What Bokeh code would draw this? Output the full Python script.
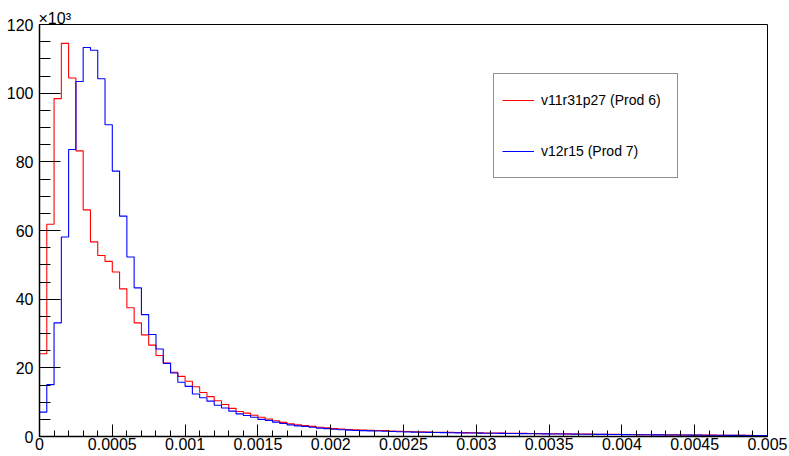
import numpy as np
from bokeh.plotting import figure
from bokeh.models import (FixedTicker, CustomJSTickFormatter, Legend, LegendItem,
                          Title, Range1d)
from bokeh.embed import file_html
from bokeh.resources import INLINE

# ---------------- data (counts in units of 10^3) ----------------
x_min = 0.0
x_max = 0.005
n_bins = 100

series_names = ["v11r31p27 (Prod 6)", "v12r15 (Prod 7)"]

prod6 = [24.1, 61.8, 98.4, 114.5, 104.4, 83.2, 66.0, 56.7, 52.7, 51.0,
         47.9, 43.0, 37.5, 33.1, 29.6, 26.6, 23.6, 21.4, 18.7, 17.5,
         16.1, 14.5, 12.8, 11.6, 10.4, 9.3, 8.2, 7.3, 6.8, 6.2,
         5.6, 5.1, 4.6, 4.1, 3.7, 3.4, 3.2, 2.95, 2.7, 2.5,
         2.3, 2.2, 2.05, 1.95, 1.85, 1.8, 1.75, 1.7, 1.6, 1.55,
         1.45, 1.4, 1.35, 1.3, 1.25, 1.22, 1.2, 1.15, 1.12, 1.1,
         1.05, 1.02, 1.0, 0.97, 0.94, 0.92, 0.9, 0.87, 0.85, 0.82,
         0.8, 0.78, 0.76, 0.73, 0.71, 0.69, 0.67, 0.65, 0.63, 0.61,
         0.59, 0.57, 0.55, 0.53, 0.51, 0.5, 0.48, 0.46, 0.45, 0.43,
         0.42, 0.4, 0.39, 0.37, 0.36, 0.35, 0.33, 0.32, 0.31, 0.3]

prod7 = [7.1, 15.1, 33.1, 58.1, 83.6, 103.4, 113.3, 112.5, 104.2, 90.8,
         77.3, 64.2, 52.3, 43.3, 35.5, 29.7, 25.5, 21.3, 18.5, 15.8,
         14.6, 12.4, 11.3, 10.3, 9.1, 8.3, 7.4, 6.6, 6.1, 5.6,
         5.0, 4.7, 4.2, 3.8, 3.4, 3.1, 2.95, 2.7, 2.45, 2.3,
         2.1, 1.95, 1.85, 1.75, 1.7, 1.65, 1.6, 1.55, 1.45, 1.4,
         1.32, 1.28, 1.24, 1.2, 1.17, 1.13, 1.1, 1.07, 1.04, 1.01,
         0.98, 0.95, 0.93, 0.9, 0.88, 0.86, 0.83, 0.81, 0.79, 0.77,
         0.75, 0.73, 0.71, 0.69, 0.67, 0.65, 0.63, 0.61, 0.59, 0.57,
         0.55, 0.53, 0.52, 0.5, 0.48, 0.47, 0.45, 0.44, 0.42, 0.41,
         0.4, 0.38, 0.37, 0.36, 0.34, 0.33, 0.32, 0.31, 0.3, 0.29]

x_ticks = [0, 0.0005, 0.001, 0.0015, 0.002, 0.0025, 0.003, 0.0035, 0.004, 0.0045, 0.005]
y_ticks = [0, 20, 40, 60, 80, 100, 120]
y_max = 120
y_exponent_text = "×10³"

# ---------------- figure ----------------
edges = np.linspace(x_min, x_max, n_bins + 1)
font = "Liberation Sans"

p = figure(width=789, height=456, output_backend="svg", toolbar_location=None,
           x_range=Range1d(x_min, x_max), y_range=Range1d(0, y_max),
           min_border_left=39, min_border_right=22, min_border_top=24,
           min_border_bottom=20)
p.title.text = y_exponent_text
p.title.align = "left"
p.title.offset = -1
p.title.standoff = -4
p.title.text_font = font
p.title.text_font_size = "16px"
p.title.text_font_style = "normal"
p.title.text_color = "black"
p.title.text_line_height = 1.5

p.background_fill_color = "white"
p.border_fill_color = "white"
p.outline_line_color = "black"
p.outline_line_width = 1
p.xgrid.visible = False
p.ygrid.visible = False

r6 = p.step(x=edges, y=np.append(prod6, prod6[-1]), mode="after",
            line_color="#ff0000", line_width=1.1)
r7 = p.step(x=edges, y=np.append(prod7, prod7[-1]), mode="after",
            line_color="#0000ff", line_width=1.1)

# x axis
xa = p.xaxis[0]
xa.ticker = FixedTicker(ticks=x_ticks, minor_ticks=list(np.arange(0, 51) * 0.0001))
xa.formatter = CustomJSTickFormatter(code="return Number(tick.toFixed(6)).toString();")
xa.major_tick_in = 12
xa.major_tick_out = 0
xa.minor_tick_in = 6
xa.minor_tick_out = 0
xa.axis_line_width = 1.5
xa.major_label_standoff = 1
xa.major_label_text_font = font
xa.major_label_text_font_size = "16px"
xa.major_label_text_color = "black"

# y axis
ya = p.yaxis[0]
ya.ticker = FixedTicker(ticks=y_ticks, minor_ticks=list(range(0, 121, 5)))
ya.major_tick_in = 21
ya.major_tick_out = 0
ya.minor_tick_in = 11
ya.minor_tick_out = 0
ya.axis_line_width = 1.5
ya.major_label_standoff = 6
ya.major_label_text_font = font
ya.major_label_text_font_size = "16px"
ya.major_label_text_color = "black"

# legend
legend = Legend(items=[LegendItem(label=series_names[0], renderers=[r6]),
                       LegendItem(label=series_names[1], renderers=[r7])],
                location=(454, 258), margin=0, padding=8, spacing=15,
                glyph_width=32, glyph_height=36, label_height=36,
                label_width=128, label_standoff=7,
                label_text_font=font, label_text_font_size="14px",
                label_text_color="black",
                border_line_color="#222222", border_line_width=1.2,
                background_fill_color="white", background_fill_alpha=1)
p.add_layout(legend)

open("out.html", "w").write(file_html(p, INLINE))
